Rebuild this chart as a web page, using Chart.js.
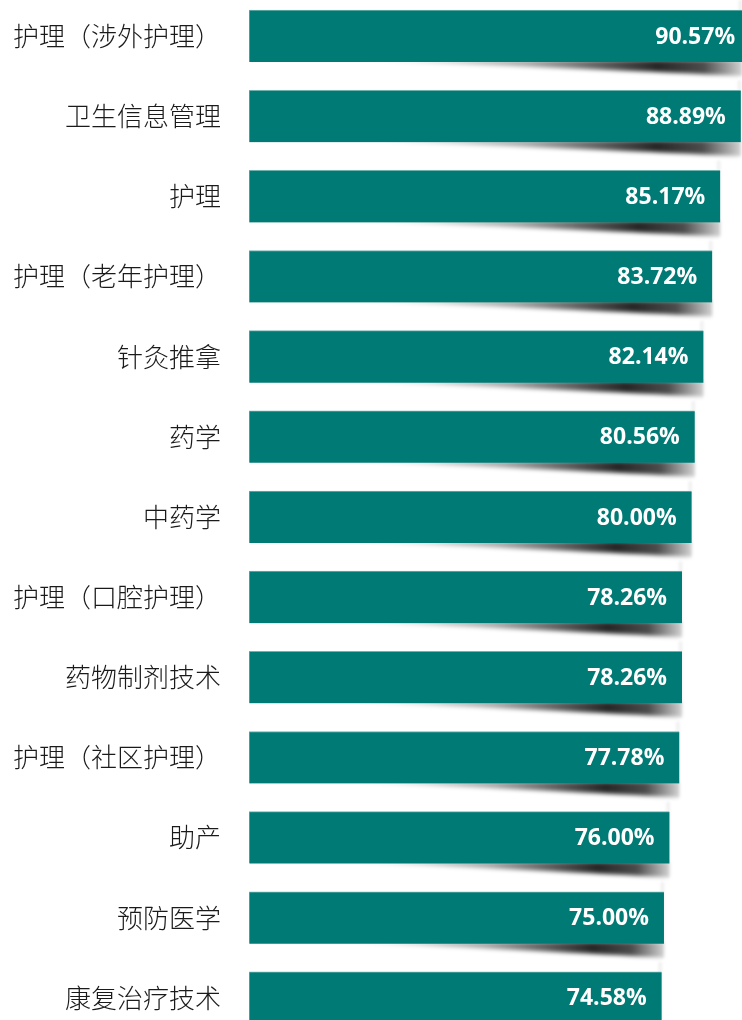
<!DOCTYPE html>
<html lang="zh">
<head>
    <meta charset="UTF-8">
    <title>专业对口率</title>
    <script src="https://cdn.jsdelivr.net/npm/chart.js@4.4.1/dist/chart.umd.min.js"></script>
    <style>
        html, body { margin: 0; padding: 0; background: #fff; overflow: hidden; }
        body { width: 742px; height: 1020px; position: relative; }
        .chart-box { position: absolute; left: 0; top: -4px; width: 742px; height: 1042px; }
    </style>
</head>
<body>
    <div class="chart-box"><canvas id="rateChart"></canvas></div>

    <script>
        const majors = [
            "护理（涉外护理）", "卫生信息管理", "护理", "护理（老年护理）", "针灸推拿",
            "药学", "中药学", "护理（口腔护理）", "药物制剂技术", "护理（社区护理）",
            "助产", "预防医学", "康复治疗技术"
        ];
        const rates = [90.57, 88.89, 85.17, 83.72, 82.14, 80.56, 80.00, 78.26, 78.26, 77.78, 76.00, 75.00, 74.58];

        const barColor = "#007a74";

        // curled shadow under the right part of each bar
        const curlShadow = {
            id: "curlShadow",
            beforeDatasetsDraw(chart) {
                const ctx = chart.ctx;
                const area = chart.chartArea;
                chart.getDatasetMeta(0).data.forEach(bar => {
                    const right = Math.min(bar.x, area.right);
                    const left = bar.base;
                    const w = right - left;
                    const bottom = bar.y + bar.height / 2;
                    const start = left + w * 0.22;

                    ctx.save();
                    ctx.filter = "blur(2px)";
                    const g = ctx.createLinearGradient(start, 0, right, 0);
                    g.addColorStop(0, "rgba(0,0,0,0)");
                    g.addColorStop(0.45, "rgba(0,0,0,0.35)");
                    g.addColorStop(0.78, "rgba(0,0,0,0.85)");
                    g.addColorStop(0.9, "rgba(0,0,0,0.7)");
                    g.addColorStop(1, "rgba(0,0,0,0.18)");
                    ctx.fillStyle = g;
                    ctx.beginPath();
                    ctx.moveTo(start, bottom - 2);
                    ctx.quadraticCurveTo(right - w * 0.25, bottom + 8, right - 1, bottom + 14);
                    ctx.lineTo(right - 1, bottom - 2);
                    ctx.closePath();
                    ctx.fill();

                    // faint edge along the right end
                    ctx.filter = "blur(1.5px)";
                    ctx.fillStyle = "rgba(0,0,0,0.07)";
                    ctx.fillRect(right - 3, bar.y - bar.height / 2 - 10, 3, bar.height + 24);
                    ctx.restore();
                });
            }
        };

        // percentage text inside the bar end
        const valueLabels = {
            id: "valueLabels",
            afterDatasetsDraw(chart) {
                const ctx = chart.ctx;
                ctx.save();
                ctx.font = "bold 23px 'Open Sans', sans-serif";
                ctx.fillStyle = "#ffffff";
                ctx.textAlign = "right";
                ctx.textBaseline = "middle";
                chart.getDatasetMeta(0).data.forEach((bar, i) => {
                    ctx.fillText(rates[i].toFixed(2) + "%", bar.x - 15, bar.y + 1);
                });
                ctx.restore();
            }
        };

        new Chart(document.getElementById("rateChart"), {
            type: "bar",
            data: {
                labels: majors,
                datasets: [{
                    data: rates,
                    backgroundColor: barColor,
                    borderColor: "#6fb3ae",
                    borderWidth: { top: 1, left: 1, right: 0, bottom: 0 },
                    borderSkipped: false,
                    barThickness: 52
                }]
            },
            options: {
                indexAxis: "y",
                responsive: true,
                maintainAspectRatio: false,
                animation: false,
                layout: { padding: 0 },
                plugins: {
                    legend: { display: false },
                    tooltip: { enabled: false }
                },
                scales: {
                    x: {
                        display: false,
                        min: 0,
                        max: 89.1
                    },
                    y: {
                        grid: { display: false, drawTicks: false },
                        border: { display: false },
                        ticks: {
                            color: "#1a1a1a",
                            font: { family: "'Noto Sans CJK SC'", size: 26, weight: 300 },
                            padding: 28
                        },
                        afterFit(scale) {
                            scale.width = 249;
                            // no extra room above/below: labels sit inside their rows
                            scale.paddingTop = 0;
                            scale.paddingBottom = 0;
                        }
                    }
                }
            },
            plugins: [curlShadow, valueLabels]
        });
    </script>
</body>
</html>
